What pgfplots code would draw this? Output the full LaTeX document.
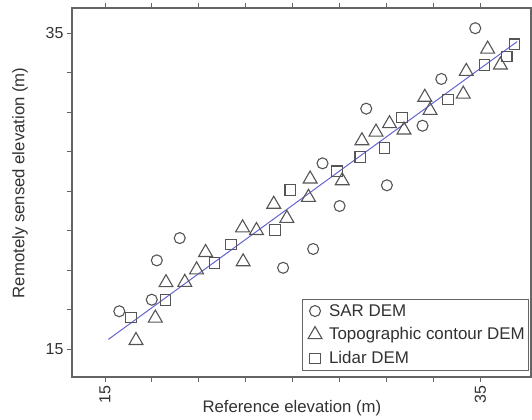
\documentclass[border=0pt]{standalone}
\usepackage{fontspec}
\setmainfont{Liberation Sans}
\usepackage{pgfplots}
\pgfplotsset{compat=1.18}
\definecolor{fitline}{RGB}{100,100,210}
\definecolor{mk}{RGB}{85,85,85}
\definecolor{ax}{RGB}{100,100,100}
\definecolor{txt}{RGB}{50,50,50}
\begin{document}
\begin{tikzpicture}
\useasboundingbox (-72bp,-43bp) rectangle (460bp,377bp);
\begin{axis}[
  scale only axis,
  width=459bp, height=369bp,
  xmin=13.24, xmax=37.7, ymin=13.25, ymax=36.6,
  axis line style={ax, line width=1.1bp},
  tick style={ax, line width=1bp},
  tick align=outside,
  major tick length=5bp,
  xtick={15,17.5,...,35}, xticklabels={15,,,,,,,,35},
  ytick={15,17.5,...,35}, yticklabels={15,,,,,,,,35},
  /pgf/number format/assume math mode=true,
  ticklabel style={font=\fontsize{16}{18}\selectfont, text=txt},
  x tick label style={rotate=90, anchor=east},
  xlabel={Reference elevation (m)},
  ylabel={Remotely sensed elevation (m)},
  label style={font=\fontsize{16.8}{19}\selectfont, text=txt},
  xlabel style={at={(rel axis cs:0.479,-0.084)}, anchor=center},
  ylabel style={at={(rel axis cs:-0.1133,0.526)}, anchor=center},
  legend style={at={(rel axis cs:0.9963,0.0171)}, anchor=south east,
    draw=ax, line width=0.9bp, font=\fontsize{17}{19}\selectfont, text=txt,
    row sep=6bp, inner xsep=2bp, inner ysep=3bp, nodes={inner sep=2bp}},
  legend image code/.code={\path[draw=none, fill=none] (0bp,-6bp) rectangle (23bp,6bp);
    \draw[#1, only marks] plot coordinates {(11bp,0bp)};},
  legend cell align=left,
]
\addplot[only marks, mark=o, mark size=5.5bp, mark options={draw=mk, line width=1.1bp}] coordinates {
(15.76,17.41) (17.49,18.14) (17.76,20.63) (18.98,22.04) (24.49,20.16)
(26.09,21.35) (27.50,24.07) (26.59,26.77) (28.92,30.23) (30.02,25.38)
(31.92,29.15) (32.92,32.11) (34.73,35.32)
};
\addlegendentry{SAR DEM}
\addplot[only marks, mark=triangle, mark size=8bp, mark options={draw=mk, line width=1.1bp}] coordinates {
(16.65,15.56) (17.68,16.98) (18.25,19.22) (19.25,19.24) (19.88,20.03)
(20.36,21.13) (22.33,22.69) (22.36,20.54) (23.07,22.52) (23.99,24.18)
(24.69,23.29) (25.84,24.62) (25.93,25.78) (27.64,25.67) (28.69,28.20)
(29.44,28.75) (30.16,29.28) (30.93,28.88) (32.04,30.95) (32.32,30.12)
(34.25,32.59) (34.09,31.15) (35.39,34.00) (36.07,32.99)
};
\addlegendentry{Topographic contour DEM}
\addplot[only marks, mark=square, mark size=5.2bp, mark options={draw=mk, line width=1.1bp}] coordinates {
(16.39,17.00) (18.21,18.12) (20.83,20.47) (21.72,21.65) (24.05,22.55)
(24.87,25.08) (27.36,26.27) (28.60,27.17) (29.88,27.74) (30.82,29.67)
(33.28,30.82) (35.21,33.00) (36.41,33.52) (36.81,34.31)
};
\addlegendentry{Lidar DEM}
\addplot[fitline, line width=1bp, forget plot] coordinates {(15.18,15.63) (36.96,34.47)};
\end{axis}
\end{tikzpicture}
\end{document}
